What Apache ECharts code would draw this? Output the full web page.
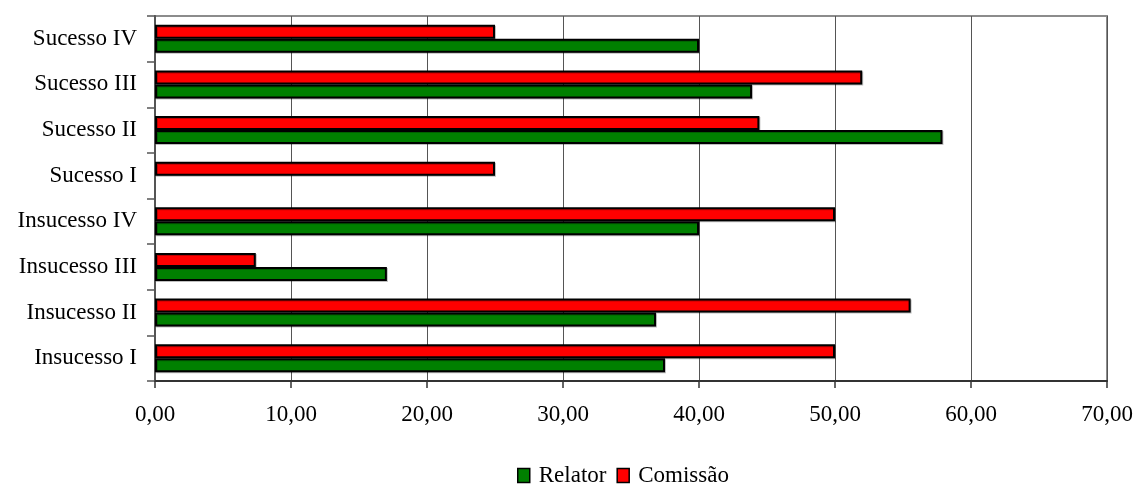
<!DOCTYPE html>
<html>
<head>
<meta charset="utf-8">
<script src="https://cdn.jsdelivr.net/npm/echarts@6/dist/echarts.min.js"></script>
<style>
  html, body { margin: 0; padding: 0; background: #fff; }
  #chart { width: 1138px; height: 486px; }
</style>
</head>
<body>
<div id="chart"></div>
<script>
// Categories listed bottom to top
const categories = ['Insucesso I', 'Insucesso II', 'Insucesso III', 'Insucesso IV',
                    'Sucesso I', 'Sucesso II', 'Sucesso III', 'Sucesso IV'];
const relator  = [37.5, 36.84, 17.05, 40.0, null, 57.9, 43.9, 40.0];
const comissao = [50.0, 55.56, 7.41, 50.0, 25.0, 44.44, 52.0, 25.0];
const xTickLabels = ['0,00', '10,00', '20,00', '30,00', '40,00', '50,00', '60,00', '70,00'];

const FONT = '"Liberation Serif", "Times New Roman", serif';
const barStyle = color => ({
  color: color,
  borderColor: '#000',
  borderWidth: 2,
  shadowColor: 'rgba(0,0,0,0.25)',
  shadowOffsetX: 1,
  shadowOffsetY: 1
});

const chart = echarts.init(document.getElementById('chart'), null, { renderer: 'canvas' });
chart.setOption({
  animation: false,
  backgroundColor: '#fff',
  grid: {
    left: 155, right: 31, top: 16, bottom: 105,
    show: true, borderColor: '#8c8c8c', borderWidth: 2, backgroundColor: 'transparent'
  },
  legend: {
    top: 464,
    left: 517,
    padding: 0,
    itemWidth: 12,
    itemHeight: 14,
    itemGap: 10,
    icon: 'rect',
    textStyle: { fontFamily: FONT, fontSize: 23, color: '#000', padding: [0, 0, 0, 4] },
    data: [
      { name: 'Relator', itemStyle: { color: '#008000', borderColor: '#000', borderWidth: 1.5 } },
      { name: 'Comissão', itemStyle: { color: '#ff0000', borderColor: '#000', borderWidth: 1.5 } }
    ]
  },
  xAxis: {
    type: 'value',
    min: 0, max: 70, interval: 10,
    axisLine: { show: true, lineStyle: { color: '#333', width: 2 } },
    axisTick: { show: true, length: 7, lineStyle: { color: '#333', width: 1.5 } },
    splitLine: { show: true, lineStyle: { color: '#555', width: 1 } },
    axisLabel: {
      margin: 22,
      fontFamily: FONT, fontSize: 23, color: '#000',
      formatter: v => xTickLabels[Math.round(v / 10)]
    }
  },
  yAxis: {
    type: 'category',
    data: categories,
    axisLine: { show: true, lineStyle: { color: '#555', width: 2 } },
    axisTick: { show: true, length: 8, lineStyle: { color: '#555', width: 1.5 } },
    axisLabel: { margin: 18, fontFamily: FONT, fontSize: 23, color: '#000' }
  },
  // Comissão is listed first so it sits above Relator inside each group
  series: [
    {
      name: 'Comissão', type: 'bar', data: comissao,
      barWidth: 14, barGap: '0%',
      itemStyle: barStyle('#ff0000')
    },
    {
      name: 'Relator', type: 'bar', data: relator,
      barWidth: 14, barGap: '0%',
      itemStyle: barStyle('#008000')
    }
  ]
});
</script>
</body>
</html>
